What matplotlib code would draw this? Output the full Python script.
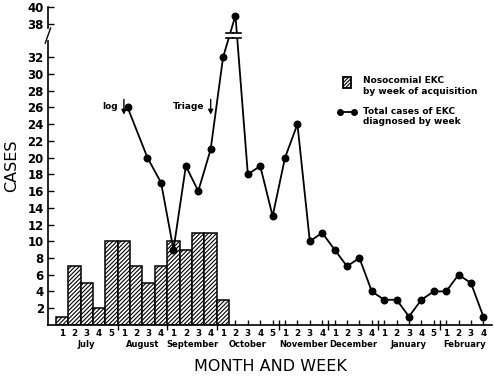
import numpy as np
import matplotlib
matplotlib.use('Agg')
import matplotlib.pyplot as plt
import matplotlib.transforms as mtransforms
from matplotlib.patches import Rectangle
from matplotlib.lines import Line2D

# data
months = ['July', 'August', 'September', 'October', 'November', 'December', 'January', 'February']
weeks_per_month = [5, 4, 4, 5, 4, 4, 5, 4]

# nosocomial EKC by week of acquisition (week index 0 = July wk 1)
noso_weeks = [0, 1, 2, 3, 4, 5, 6, 7, 8, 9, 10, 11, 12, 13]
noso_cases = [1, 7, 5, 2, 10, 10, 7, 5, 7, 10, 9, 11, 11, 3]

# total cases of EKC diagnosed by week
total_weeks = [5.3, 6.9, 8, 9, 10, 11, 12, 13, 14, 15, 16, 17, 18, 19, 20, 21,
               22, 23, 24, 25, 26, 27, 28, 29, 30, 31, 32, 33, 34]
total_cases = [26, 20, 17, 9, 19, 16, 21, 32, 39, 18, 19, 13, 20, 24, 10, 11,
               9, 7, 8, 4, 3, 3, 1, 3, 4, 4, 6, 5, 1]

yticks_low = [2, 4, 6, 8, 10, 12, 14, 16, 18, 20, 22, 24, 26, 28, 30, 32]
yticks_high = [38, 40]

# broken y axis: values above the break are drawn 2 units lower
BREAK_AT = 34.6
SHIFT = 2


def ymap(v):
    v = np.asarray(v, dtype=float)
    return np.where(v > 35, v - SHIFT, v)


plt.rcParams['hatch.linewidth'] = 0.8

fig = plt.figure(figsize=(4.94, 3.76), dpi=100)
ax = fig.add_axes([0.097, 0.136, 0.899, 0.845])

# bars
ax.bar(noso_weeks, noso_cases, width=1.0, color='white', edgecolor='black',
       linewidth=1.1, hatch='////////', zorder=2)

# line
ty = ymap(total_cases)
ax.plot(total_weeks, ty, color='black', lw=1.3, marker='o', ms=4.7, zorder=4)

# break marks on the line where it crosses the break
for i in range(len(ty) - 1):
    y0, y1 = ty[i], ty[i + 1]
    if (y0 - BREAK_AT) * (y1 - BREAK_AT) < 0:
        x0, x1 = total_weeks[i], total_weeks[i + 1]
        xc = x0 + (BREAK_AT - y0) * (x1 - x0) / (y1 - y0)
        ax.add_patch(Rectangle((xc - 0.35, BREAK_AT - 0.3), 0.7, 0.6,
                               facecolor='white', edgecolor='none', zorder=5))
        for yy in (BREAK_AT - 0.3, BREAK_AT + 0.3):
            ax.plot([xc - 0.3, xc + 0.3], [yy, yy], color='black', lw=1.2, zorder=6)

ax.set_xlim(-1.13, 34.7)
ax.set_ylim(0, 38)

# y axis
ax.set_yticks(list(yticks_low) + list(ymap(yticks_high)))
ax.set_yticklabels([str(v) for v in yticks_low + yticks_high])
ax.tick_params(axis='y', direction='in', length=4, width=1, labelsize=8.5, pad=3)
for lab in ax.get_yticklabels():
    lab.set_fontweight('bold')

# x axis: week ticks and month separators
week_labels = []
for n in weeks_per_month:
    week_labels += [str(k) for k in range(1, n + 1)]
ax.set_xticks(range(len(week_labels)))
ax.set_xticklabels(week_labels)
bounds = np.cumsum(weeks_per_month)[:-1] - 0.5
ax.set_xticks(bounds, minor=True)
ax.tick_params(axis='x', which='major', direction='in', length=3.5, width=1,
               labelsize=6.3, pad=3)
ax.tick_params(axis='x', which='minor', direction='inout', length=7, width=1)
for lab in ax.get_xticklabels():
    lab.set_fontweight('bold')

trans = mtransforms.blended_transform_factory(ax.transData, ax.transAxes)
start = 0
for name, n in zip(months, weeks_per_month):
    ax.text(start + (n - 1) / 2, -0.048, name, transform=trans, ha='center', va='top',
            fontsize=6.0, fontweight='bold')
    start += n

ax.set_xlabel('MONTH AND WEEK', fontsize=11.5, labelpad=15)
ax.set_ylabel('CASES', fontsize=11.5, labelpad=6)

# spines and the y-axis break
for s in ('top', 'right', 'left'):
    ax.spines[s].set_visible(False)
ax.spines['bottom'].set_linewidth(1.2)
ytr = ax.get_yaxis_transform()
ax.plot([0, 0], [0, BREAK_AT - 0.7], transform=ytr, color='black', lw=1.2, clip_on=False)
ax.plot([0, 0], [BREAK_AT + 0.9, 38], transform=ytr, color='black', lw=1.2, clip_on=False)
ax.plot([-0.006, 0.006], [BREAK_AT - 0.9, BREAK_AT + 0.9], transform=ytr,
        color='black', lw=1.0, clip_on=False)

# annotation arrows
for xa, label in [(5, 'log'), (12, 'Triage')]:
    ax.annotate('', xy=(xa, 24.8), xytext=(xa, 27.3),
                arrowprops=dict(arrowstyle='-|>', color='black', lw=1.0,
                                mutation_scale=7))
    ax.text(xa - 0.5, 26.1, label, ha='right', va='center', fontsize=6.5,
            fontweight='bold')

# legend drawn by hand
fig.add_artist(Rectangle((0.694, 0.766), 0.017, 0.028, transform=fig.transFigure,
                         facecolor='white', edgecolor='black', hatch='/////////',
                         lw=1.3))
fig.text(0.735, 0.771, 'Nosocomial EKC\nby week of acquisition', ha='left', va='center',
         fontsize=6.5, fontweight='bold', linespacing=1.25)
fig.add_artist(Line2D([0.689, 0.717], [0.702, 0.702], transform=fig.transFigure,
                      color='black', lw=1.3, marker='o', ms=4))
fig.text(0.735, 0.690, 'Total cases of EKC\ndiagnosed by week', ha='left', va='center',
         fontsize=6.5, fontweight='bold', linespacing=1.25)

fig.savefig('out.png', dpi=100)
